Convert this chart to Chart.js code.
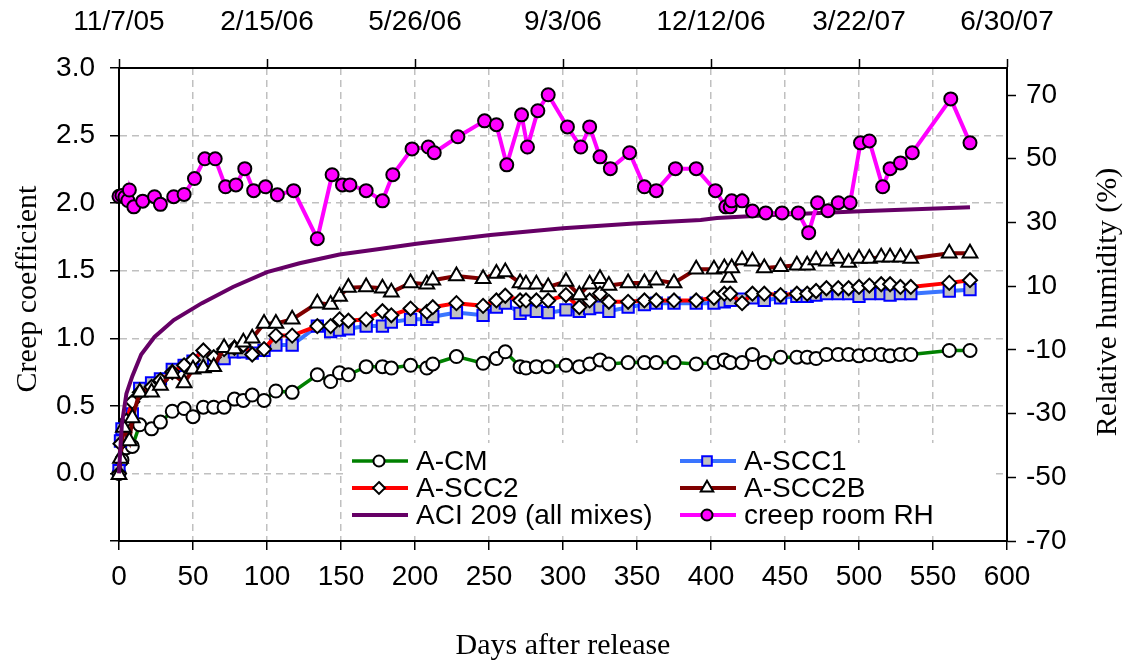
<!DOCTYPE html>
<html>
<head>
<meta charset="utf-8">
<title>Creep coefficient</title>
<script src="https://cdn.jsdelivr.net/npm/chart.js@4.4.1/dist/chart.umd.min.js"></script>
<style>
  html, body { margin: 0; padding: 0; background: #fff; }
  #creepChart { display: block; }
</style>
</head>
<body>
<canvas id="creepChart" width="1128" height="664"></canvas>
<script>
// days after release (bottom axis) and calendar dates every 100 days (top axis)
const dateLabels = ['11/7/05', '2/15/06', '5/26/06', '9/3/06', '12/12/06', '3/22/07', '6/30/07'];
const rhTicks = [-70, -50, -30, -10, 10, 30, 50, 70];

// A-CM
const cmDays = [0, 2, 5, 9, 14, 22, 28, 36, 44, 50, 57, 64, 71, 78, 84, 90, 98, 106, 117, 134, 143, 149, 155, 167, 178, 184, 197, 208, 212, 228, 246, 255, 261, 271, 275, 282, 290, 302, 311, 318, 325, 331, 344, 355, 363, 375, 390, 402, 409, 413, 421, 428, 436, 447, 458, 465, 471, 478, 486, 493, 500, 507, 515, 521, 528, 535, 561, 575];
const cmValues = [0.0, 0.1, 0.19, 0.2, 0.36, 0.33, 0.38, 0.46, 0.48, 0.42, 0.49, 0.49, 0.49, 0.55, 0.54, 0.58, 0.54, 0.61, 0.60, 0.73, 0.68, 0.745, 0.73, 0.79, 0.79, 0.78, 0.80, 0.78, 0.81, 0.865, 0.815, 0.85, 0.90, 0.79, 0.78, 0.79, 0.79, 0.80, 0.79, 0.81, 0.84, 0.81, 0.82, 0.82, 0.82, 0.82, 0.81, 0.82, 0.84, 0.82, 0.82, 0.88, 0.82, 0.86, 0.86, 0.86, 0.85, 0.88, 0.88, 0.88, 0.87, 0.88, 0.88, 0.87, 0.88, 0.88, 0.91, 0.91];

// A-SCC1
const scc1Days = [0, 1, 2, 9, 14, 22, 28, 36, 44, 50, 57, 64, 71, 78, 84, 90, 98, 106, 117, 134, 143, 149, 155, 167, 178, 184, 197, 208, 212, 228, 246, 255, 261, 271, 275, 282, 290, 302, 311, 318, 325, 331, 344, 355, 363, 375, 390, 402, 409, 413, 421, 428, 436, 447, 458, 465, 471, 478, 486, 493, 500, 507, 515, 521, 528, 535, 561, 575];
const scc1Values = [0.02, 0.24, 0.33, 0.44, 0.63, 0.67, 0.70, 0.77, 0.80, 0.83, 0.85, 0.85, 0.85, 0.90, 0.90, 0.89, 0.91, 0.95, 0.95, 1.09, 1.05, 1.06, 1.07, 1.09, 1.09, 1.12, 1.14, 1.14, 1.16, 1.19, 1.17, 1.23, 1.26, 1.185, 1.21, 1.20, 1.19, 1.21, 1.20, 1.22, 1.23, 1.20, 1.23, 1.25, 1.26, 1.26, 1.26, 1.26, 1.27, 1.28, 1.29, 1.30, 1.28, 1.30, 1.31, 1.31, 1.32, 1.33, 1.33, 1.33, 1.31, 1.33, 1.33, 1.32, 1.33, 1.33, 1.35, 1.36];

// A-SCC2
const scc2Days = [0, 1, 5, 9, 14, 22, 28, 36, 44, 50, 57, 64, 71, 78, 84, 90, 98, 106, 117, 134, 143, 149, 155, 167, 178, 184, 197, 208, 212, 228, 246, 255, 261, 271, 275, 282, 290, 302, 311, 318, 325, 331, 344, 355, 363, 375, 390, 402, 409, 413, 421, 428, 436, 447, 458, 465, 471, 478, 486, 493, 500, 507, 515, 521, 528, 535, 561, 575];
const scc2Values = [0.0, 0.22, 0.39, 0.53, 0.60, 0.64, 0.69, 0.75, 0.80, 0.84, 0.91, 0.86, 0.92, 0.93, 0.95, 0.88, 0.92, 1.02, 1.02, 1.09, 1.09, 1.14, 1.13, 1.14, 1.20, 1.17, 1.22, 1.195, 1.23, 1.26, 1.24, 1.28, 1.315, 1.28, 1.28, 1.28, 1.28, 1.32, 1.23, 1.28, 1.33, 1.27, 1.27, 1.28, 1.28, 1.28, 1.28, 1.30, 1.33, 1.33, 1.26, 1.33, 1.33, 1.32, 1.33, 1.33, 1.35, 1.37, 1.37, 1.37, 1.38, 1.39, 1.40, 1.40, 1.38, 1.38, 1.41, 1.43];

// A-SCC2B
const scc2bDays = [0, 1, 3, 7, 9, 14, 22, 28, 36, 44, 50, 57, 64, 71, 78, 84, 90, 98, 106, 117, 134, 143, 149, 155, 167, 178, 184, 197, 208, 212, 228, 246, 255, 261, 271, 275, 282, 290, 302, 311, 318, 325, 331, 344, 355, 363, 375, 390, 402, 409, 412, 414, 421, 428, 436, 447, 458, 465, 471, 478, 486, 493, 500, 507, 515, 521, 528, 535, 561, 575];
const scc2bValues = [-0.01, 0.11, 0.34, 0.24, 0.41, 0.60, 0.60, 0.65, 0.74, 0.67, 0.77, 0.78, 0.79, 0.93, 0.92, 0.97, 1.00, 1.11, 1.11, 1.14, 1.26, 1.25, 1.31, 1.375, 1.38, 1.37, 1.34, 1.41, 1.40, 1.43, 1.46, 1.44, 1.48, 1.49, 1.41, 1.40, 1.40, 1.38, 1.42, 1.32, 1.40, 1.44, 1.39, 1.41, 1.41, 1.43, 1.41, 1.51, 1.51, 1.52, 1.45, 1.52, 1.58, 1.57, 1.52, 1.53, 1.54, 1.54, 1.58, 1.57, 1.59, 1.56, 1.59, 1.59, 1.60, 1.60, 1.60, 1.59, 1.63, 1.63];

// ACI 209 prediction (all mixes)
const aciDays = [0, 1, 2, 5, 9, 15, 24, 37, 56, 77, 100, 122, 149, 176, 201, 212, 251, 300, 348, 393, 404, 438, 501, 575];
const aciValues = [0, 0.2, 0.37, 0.59, 0.72, 0.88, 1.01, 1.135, 1.26, 1.38, 1.49, 1.555, 1.62, 1.66, 1.70, 1.715, 1.765, 1.815, 1.85, 1.876, 1.89, 1.91, 1.94, 1.97];

// creep room relative humidity, %
const rhDays = [0, 2, 4, 6, 7, 10, 16, 24, 28, 37, 44, 51, 58, 65, 72, 79, 85, 91, 99, 107, 118, 134, 144, 151, 156, 167, 178, 185, 198, 209, 213, 229, 247, 255, 262, 272, 276, 283, 290, 303, 312, 318, 325, 332, 345, 355, 363, 376, 390, 403, 410, 413, 414, 421, 428, 437, 448, 459, 466, 472, 479, 486, 494, 501, 507, 516, 521, 528, 536, 562, 575];
const rhValues = [38.2, 38.5, 38.0, 36.9, 40.2, 34.9, 36.7, 38.1, 35.7, 38.1, 38.8, 43.8, 50.0, 50.0, 41.2, 41.8, 46.9, 40.0, 41.2, 38.7, 40.0, 24.9, 45.0, 41.8, 41.8, 40.0, 36.8, 45.0, 53.1, 53.7, 51.9, 56.9, 61.9, 60.7, 48.1, 63.8, 53.7, 65.1, 70.1, 60.0, 53.7, 60.0, 50.6, 46.9, 51.9, 41.2, 40.0, 46.9, 46.9, 40.0, 34.9, 34.9, 36.8, 36.8, 33.6, 33.0, 33.0, 33.0, 26.8, 36.2, 33.7, 36.2, 36.2, 55.0, 55.6, 41.2, 46.9, 48.7, 51.9, 68.8, 55.0];

const toPoints = (days, vals) => days.map((d, i) => ({ x: d, y: vals[i] }));

Chart.defaults.font.family = "'Liberation Sans', Arial, sans-serif";
Chart.defaults.color = '#000';

const serif = "'Liberation Serif', 'Times New Roman', serif";
const tickFont = { size: 28 };
const gridGray = '#c0c0c0';

function series(label, days, vals, line, marker, extra) {
  return Object.assign({
    label: label,
    data: toPoints(days, vals),
    yAxisID: 'y',
    borderColor: line,
    borderWidth: 4,
    tension: 0,
    clip: false,
    pointStyle: marker,
    pointRadius: 6.5,
    pointBorderWidth: 2,
    pointBorderColor: '#000',
    pointBackgroundColor: '#fff'
  }, extra);
}

const datasets = [
  series('A-CM', cmDays, cmValues, '#008000', 'circle', { order: 6, borderWidth: 3.5 }),
  series('A-SCC1', scc1Days, scc1Values, '#3a75ff', 'rect', { order: 5, pointRadius: 8, pointBorderColor: '#0000ff', pointBackgroundColor: '#c0c0c0' }),
  series('A-SCC2', scc2Days, scc2Values, '#ff0000', 'rectRot', { order: 4, pointRadius: 7 }),
  series('A-SCC2B', scc2bDays, scc2bValues, '#800000', 'triangle', { order: 3, pointRadius: 8.5 }),
  series('ACI 209 (all mixes)', aciDays, aciValues, '#660066', false, { order: 2, pointRadius: 0 }),
  series('creep room RH', rhDays, rhValues, '#ff00ff', 'circle', { order: 1, yAxisID: 'y2', pointRadius: 6.5, pointBackgroundColor: '#ff00ff' })
];

// marker shapes for the legend samples
function drawMarker(ctx, ds, x, y, r) {
  if (!ds.pointStyle) return;
  ctx.beginPath();
  if (ds.pointStyle === 'circle') {
    ctx.arc(x, y, r, 0, Math.PI * 2);
  } else if (ds.pointStyle === 'rect') {
    const s = r * Math.SQRT1_2;
    ctx.rect(x - s, y - s, 2 * s, 2 * s);
  } else if (ds.pointStyle === 'rectRot') {
    ctx.moveTo(x, y - r); ctx.lineTo(x + r, y); ctx.lineTo(x, y + r); ctx.lineTo(x - r, y);
    ctx.closePath();
  } else if (ds.pointStyle === 'triangle') {
    for (let k = 0; k < 3; k++) {
      const a = k * 2 * Math.PI / 3;
      const px = x + Math.sin(a) * r, py = y - Math.cos(a) * r;
      k ? ctx.lineTo(px, py) : ctx.moveTo(px, py);
    }
    ctx.closePath();
  }
  ctx.fillStyle = ds.pointBackgroundColor;
  ctx.fill();
  ctx.lineWidth = 2;
  ctx.strokeStyle = ds.pointBorderColor;
  ctx.stroke();
}

// two-column legend sitting inside the plot, lower right
const insideLegend = {
  id: 'insideLegend',
  afterDraw(chart) {
    const ctx = chart.ctx;
    const a = chart.chartArea;
    const cols = [a.left + 233, a.left + 561];
    const rows = [a.top + 393, a.top + 420, a.top + 447];
    ctx.save();
    ctx.fillStyle = '#fff';
    ctx.fillRect(a.left + 224, a.top + 375, 648, 92);
    ctx.font = "28px 'Liberation Sans', Arial, sans-serif";
    ctx.textBaseline = 'middle';
    ctx.textAlign = 'left';
    chart.data.datasets.forEach((ds, i) => {
      const x = cols[i % 2], y = rows[Math.floor(i / 2)];
      ctx.strokeStyle = ds.borderColor;
      ctx.lineWidth = ds.borderWidth;
      ctx.beginPath();
      ctx.moveTo(x, y);
      ctx.lineTo(x + 56, y);
      ctx.stroke();
      drawMarker(ctx, ds, x + 27, y, ds.pointRadius * 0.85);
      ctx.fillStyle = '#000';
      ctx.fillText(ds.label, x + 64, y + 1);
    });
    ctx.restore();
  }
};

// vertical axis titles, both reading bottom to top
const sideTitles = {
  id: 'sideTitles',
  afterDraw(chart) {
    const ctx = chart.ctx;
    ctx.save();
    ctx.font = '30px ' + serif;
    ctx.fillStyle = '#000';
    ctx.textAlign = 'center';
    ctx.textBaseline = 'middle';
    [['Creep coefficient', 28, 289], ['Relative humidity (%)', 1108, 302]].forEach(([t, x, y]) => {
      ctx.save();
      ctx.translate(x, y);
      ctx.rotate(-Math.PI / 2);
      ctx.fillText(t, 0, 0);
      ctx.restore();
    });
    ctx.restore();
  }
};

const tickMarks = { tickColor: '#000', tickLength: 9, tickWidth: 1.5 };

new Chart(document.getElementById('creepChart'), {
  type: 'line',
  data: { datasets: datasets },
  options: {
    responsive: false,
    animation: false,
    layout: { padding: 0 },
    plugins: { legend: { display: false }, tooltip: { enabled: false } },
    scales: {
      x: {
        type: 'linear', position: 'bottom', min: 0, max: 600,
        ticks: { stepSize: 50, padding: 10, font: tickFont, autoSkip: false, maxRotation: 0 },
        grid: Object.assign({ color: gridGray, lineWidth: 1.5 }, tickMarks),
        border: { color: '#000', width: 2, dash: [7, 5] },
        title: { display: true, text: 'Days after release', font: { family: serif, size: 30 }, padding: { top: 0, bottom: 0 } },
        afterFit: s => { s.height = 123; }
      },
      x2: {
        type: 'linear', position: 'top', min: 0, max: 600,
        ticks: { stepSize: 100, padding: 20, font: tickFont, autoSkip: false, maxRotation: 0,
                 callback: (v, i) => dateLabels[i] },
        grid: Object.assign({ drawOnChartArea: false }, tickMarks),
        border: { color: '#000', width: 2 },
        afterFit: s => { s.height = 68; }
      },
      y: {
        type: 'linear', position: 'left', min: -0.5, max: 3.0,
        ticks: { stepSize: 0.5, padding: 15, font: tickFont,
                 callback: v => (v < 0 ? '' : v.toFixed(1)) },
        grid: Object.assign({ color: gridGray, lineWidth: 1.5 }, tickMarks),
        border: { color: '#000', width: 2, dash: [7, 5] },
        afterFit: s => { s.width = 119; }
      },
      y2: {
        type: 'linear', position: 'right', min: -70, max: 78.5,
        afterBuildTicks: s => { s.ticks = rhTicks.map(v => ({ value: v })); },
        ticks: { padding: 10, font: tickFont },
        grid: Object.assign({ drawOnChartArea: false }, tickMarks),
        border: { color: '#000', width: 2 },
        afterFit: s => { s.width = 121; }
      }
    }
  },
  plugins: [insideLegend, sideTitles]
});
</script>
</body>
</html>
